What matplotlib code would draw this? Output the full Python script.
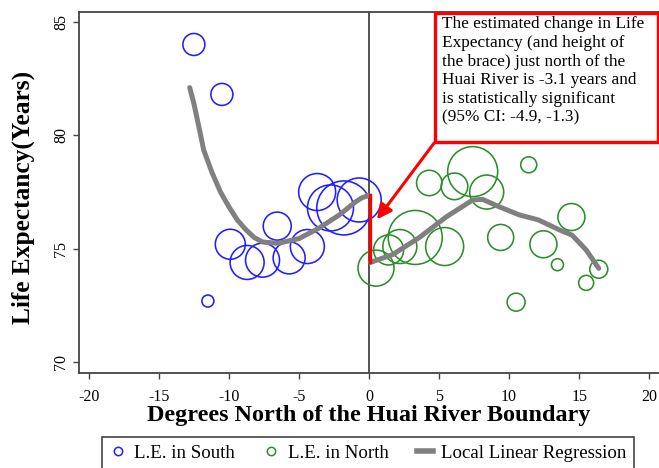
import numpy as np
import matplotlib
matplotlib.use('Agg')
import matplotlib.pyplot as plt
from matplotlib.lines import Line2D
from matplotlib.patches import Rectangle

plt.rcParams['font.family'] = 'serif'
plt.rcParams['font.serif'] = ['Liberation Serif', 'DejaVu Serif']
plt.rcParams['axes.unicode_minus'] = False

# south of the river (blue circles); r = circle radius in pixels
south_x = [-12.5, -10.5, -11.5, -9.9, -8.7, -7.6, -6.55, -5.7, -4.4, -3.7, -2.75, -1.8, -0.7]
south_y = [84.0, 81.8, 72.7, 75.2, 74.4, 74.5, 76.0, 74.6, 75.1, 77.5, 76.8, 76.8, 77.15]
south_r = [11, 11, 6, 15, 17, 17, 14, 16, 17, 18.5, 23, 27, 22]

# north of the river (green circles)
north_x = [0.5, 1.4, 2.2, 3.3, 5.4, 4.3, 6.1, 7.4, 8.4, 11.4, 9.4, 12.45, 13.45, 14.45, 15.5, 16.4, 10.5]
north_y = [74.15, 74.95, 75.1, 75.5, 75.1, 77.9, 77.75, 78.4, 77.5, 78.7, 75.5, 75.2, 74.3, 76.4, 73.5, 74.1, 72.65]
north_r = [18, 15, 17, 27, 19, 12.7, 13.3, 25, 17, 8, 13, 13.5, 6, 13.5, 7.5, 9, 9]

# local linear regression fits
fit_s_x = [-12.8, -12.5, -12.1, -11.8, -11.2, -10.6, -10.0, -9.4, -8.8, -8.2, -7.6, -6.5,
           -5.0, -3.6, -2.1, -1.0, -0.5, 0.0]
fit_s_y = [82.1, 81.4, 80.25, 79.35, 78.35, 77.5, 76.85, 76.27, 75.85, 75.5, 75.3, 75.24,
           75.45, 75.9, 76.5, 77.05, 77.25, 77.35]
fit_n_x = [0.1, 1.7, 3.6, 5.5, 7.4, 8.1, 9.3, 10.7, 12.1, 13.6, 14.5, 15.5, 16.4]
fit_n_y = [74.4, 74.75, 75.5, 76.4, 77.15, 77.18, 76.85, 76.5, 76.27, 75.83, 75.6, 74.95, 74.14]

note = ("The estimated change in Life\nExpectancy (and height of\nthe brace) just north of the\n"
        "Huai River is -3.1 years and\nis statistically significant\n(95% CI: -4.9, -1.3)")

blue = '#1f1fff'
green = '#2a8f2a'
grey = '#808080'


def px_to_size(r):
    # radius in pixels (dpi 100) -> scatter area in points^2
    return (2 * np.asarray(r) * 0.72) ** 2


fig = plt.figure(figsize=(6.59, 4.68), dpi=100)
ax = fig.add_axes([79 / 659, 1 - 373 / 468, 580 / 659, 361 / 468])

ax.axvline(0, color='#444444', lw=1.3, zorder=1)
ax.scatter(south_x, south_y, s=px_to_size(south_r), facecolors='none', edgecolors=blue, linewidths=1.15, zorder=2)
ax.scatter(north_x, north_y, s=px_to_size(north_r), facecolors='none', edgecolors=green, linewidths=1.15, zorder=2)
ax.plot(fit_s_x, fit_s_y, color=grey, lw=3.6, solid_capstyle='round', solid_joinstyle='round', zorder=3)
ax.plot(fit_n_x, fit_n_y, color=grey, lw=3.6, solid_capstyle='round', solid_joinstyle='round', zorder=3)

# the brace at the border
ax.plot([0.05, 0.05], [fit_s_y[-1], fit_n_y[0]], color='red', lw=2.4, zorder=4)
ax.annotate('', xy=(0.45, 76.2), xytext=(4.76, 79.75),
            arrowprops=dict(arrowstyle='-|>', color='red', lw=2.2, mutation_scale=22), zorder=5)

box = Rectangle((0.6138, 0.6407), 0.3845, 0.3557, transform=ax.transAxes, facecolor='white',
                edgecolor='red', lw=2.4, zorder=6, clip_on=False)
ax.add_patch(box)
ax.text(0.625, 0.988, note, transform=ax.transAxes, ha='left', va='top', fontsize=12.4,
        linespacing=1.22, zorder=7)

ax.set_xlim(-20.7, 20.7)
ax.set_ylim(69.53, 85.43)
ax.set_xticks([-20, -15, -10, -5, 0, 5, 10, 15, 20])
ax.set_yticks([70, 75, 80, 85])
ax.tick_params(axis='both', labelsize=11.5, length=4, width=1, color='#444444')
ax.tick_params(axis='x', pad=7.5)
ax.tick_params(axis='y', pad=3)
for lbl in ax.get_yticklabels():
    lbl.set_rotation(90)
    lbl.set_va('center')

for side in ['left', 'bottom', 'top']:
    ax.spines[side].set_color('#444444')
    ax.spines[side].set_linewidth(1.3)
ax.spines['right'].set_visible(False)

ax.set_xlabel('Degrees North of the Huai River Boundary', fontsize=17.4, fontweight='bold', labelpad=0)
ax.set_ylabel('Life Expectancy(Years)', fontsize=18.3, fontweight='bold')
ax.yaxis.set_label_coords(-0.076, 0.485)

handles = [
    Line2D([], [], marker='o', ls='none', mfc='none', mec=blue, mew=1.1, ms=6),
    Line2D([], [], marker='o', ls='none', mfc='none', mec=green, mew=1.1, ms=6),
    Line2D([], [], color=grey, lw=4),
]
labels = ['L.E. in South', 'L.E. in North', 'Local Linear Regression']
leg = fig.legend(handles, labels, loc='upper left', bbox_to_anchor=(102 / 659, 1 - 437 / 468), ncol=3,
                 fontsize=13.6, frameon=True, fancybox=False, edgecolor='#444444', framealpha=1,
                 handlelength=0.85, handletextpad=0.45, columnspacing=1.5, borderpad=0.4,
                 borderaxespad=0)
leg.get_frame().set_linewidth(1.2)

fig.savefig('out.png', dpi=100)
